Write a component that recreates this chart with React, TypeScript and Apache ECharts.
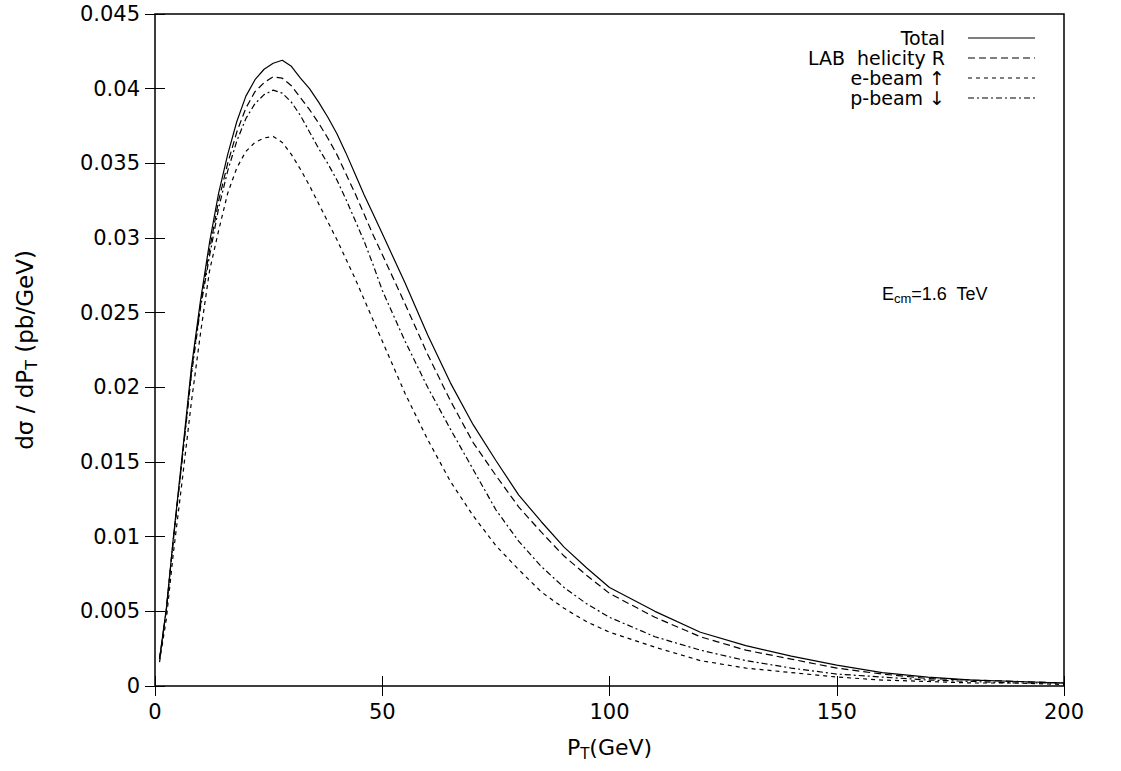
import React, { useEffect, useRef } from "react";
import * as echarts from "echarts";

const ptValues = [1, 2.5, 4, 6, 8, 10, 12, 14, 16, 18, 20, 22, 24, 26, 28, 30, 32, 34, 36, 38, 40, 42, 44, 46, 48, 50, 55, 60, 65, 70, 75, 80, 85, 90, 95, 100, 110, 120, 130, 140, 150, 160, 170, 180, 190, 200];

const totalValues = [0.0018, 0.0052, 0.0098, 0.0155, 0.0213, 0.0258, 0.0297, 0.0330, 0.0356, 0.0378, 0.0395, 0.0406, 0.0413, 0.0417, 0.0419, 0.0415, 0.0407, 0.0400, 0.0391, 0.0381, 0.0370, 0.0357, 0.0343, 0.0329, 0.0316, 0.0303, 0.0270, 0.0235, 0.0203, 0.0175, 0.0151, 0.0128, 0.0110, 0.0093, 0.0079, 0.0066, 0.0050, 0.0036, 0.0027, 0.0020, 0.0014, 0.0009, 0.0006, 0.0004, 0.0003, 0.0002];

const helicityValues = [0.0018, 0.0051, 0.0097, 0.0153, 0.0210, 0.0255, 0.0292, 0.0325, 0.0350, 0.0371, 0.0387, 0.0398, 0.0404, 0.0408, 0.0407, 0.0402, 0.0394, 0.0386, 0.0377, 0.0367, 0.0356, 0.0343, 0.0330, 0.0316, 0.0302, 0.0289, 0.0256, 0.0222, 0.0191, 0.0163, 0.0141, 0.0120, 0.0103, 0.0087, 0.0074, 0.0062, 0.0046, 0.0033, 0.0024, 0.0018, 0.0012, 0.0008, 0.0005, 0.0004, 0.0003, 0.0002];

const eBeamValues = [0.0016, 0.0045, 0.0088, 0.0138, 0.0190, 0.0236, 0.0278, 0.0305, 0.0330, 0.0347, 0.0358, 0.0364, 0.0367, 0.0368, 0.0364, 0.0356, 0.0346, 0.0335, 0.0323, 0.0311, 0.0299, 0.0286, 0.0273, 0.0259, 0.0245, 0.0231, 0.0196, 0.0165, 0.0137, 0.0114, 0.0094, 0.0078, 0.0063, 0.0052, 0.0043, 0.0036, 0.0026, 0.0017, 0.0012, 0.0009, 0.0006, 0.0004, 0.0003, 0.0002, 0.0002, 0.0001];

const pBeamValues = [0.0018, 0.0051, 0.0097, 0.0152, 0.0208, 0.0253, 0.0288, 0.0320, 0.0345, 0.0365, 0.0380, 0.0390, 0.0396, 0.0399, 0.0397, 0.0391, 0.0382, 0.0371, 0.0360, 0.0350, 0.0339, 0.0326, 0.0312, 0.0298, 0.0282, 0.0265, 0.0231, 0.0200, 0.0172, 0.0145, 0.0118, 0.0097, 0.0080, 0.0066, 0.0055, 0.0046, 0.0033, 0.0024, 0.0017, 0.0012, 0.0008, 0.0006, 0.0004, 0.0003, 0.0002, 0.0002];

const seriesNames = ["Total", "LAB  helicity R", "e-beam \u2191", "p-beam \u2193"];
const seriesDashes: (number[] | "solid")[] = ["solid", [7, 4], [4, 4], [6, 3, 2, 3]];
const seriesData = [totalValues, helicityValues, eBeamValues, pBeamValues];

const FONT = "'DejaVu Sans', sans-serif";
const FONT2 = "'Liberation Sans', Arial, sans-serif";

export default function App() {
  const ref = useRef<HTMLDivElement>(null);
  useEffect(() => {
    if (!ref.current) return;
    const chart = echarts.init(ref.current, undefined, { renderer: "svg" });
    const grid = { left: 155, top: 14, right: 57, bottom: 85 };
    const tickStyle = { show: true, inside: true, length: 10, lineStyle: { color: "#000", width: 1 } };

    const series = seriesData.map((vals, i) => ({
      name: seriesNames[i],
      type: "line",
      xAxisIndex: 0,
      yAxisIndex: 0,
      showSymbol: false,
      symbol: "none",
      smooth: false,
      lineStyle: { color: "#000", width: 1.2, type: seriesDashes[i] },
      data: ptValues.map((x, j) => [x, vals[j]]),
    }));

    const legendTop = 38;
    const legendStep = 20;
    const legendGraphics: any[] = [];
    seriesNames.forEach((name, i) => {
      const y = legendTop + i * legendStep;
      legendGraphics.push({
        type: "text",
        x: 945,
        y,
        style: {
          text: name,
          fill: "#000",
          fontSize: 19,
          fontFamily: FONT,
          lineHeight: 18,
          textAlign: "right",
          textVerticalAlign: "middle",
        },
      });
      legendGraphics.push({
        type: "line",
        shape: { x1: 968, y1: y, x2: 1035, y2: y },
        style: { stroke: "#000", lineWidth: 1.2, lineDash: seriesDashes[i] === "solid" ? null : seriesDashes[i] },
      });
    });

    chart.setOption({
      animation: false,
      backgroundColor: "#fff",
      grid: { ...grid, show: true, borderColor: "#000", borderWidth: 1.5, backgroundColor: "transparent" },
      xAxis: [
        {
          type: "value",
          min: 0,
          max: 200,
          interval: 50,
          position: "bottom",
          axisLine: { show: false },
          axisTick: tickStyle,
          splitLine: { show: false },
          axisLabel: { color: "#000", fontSize: 21, fontFamily: FONT, margin: 15 },
          name: "{n|P}{s|T}{n|(GeV)}",
          nameLocation: "middle",
          nameGap: 48,
          nameTextStyle: {
            rich: {
              n: { fontSize: 22, fontFamily: FONT, color: "#000" },
              s: { fontSize: 15, fontFamily: FONT, color: "#000", padding: [12, 0, 0, 0] },
            },
          },
        },
        {
          type: "value",
          min: 0,
          max: 200,
          interval: 50,
          position: "top",
          axisLine: { show: false },
          axisTick: tickStyle,
          splitLine: { show: false },
          axisLabel: { show: false },
        },
      ],
      yAxis: [
        {
          type: "value",
          min: 0,
          max: 0.045,
          interval: 0.005,
          position: "left",
          axisLine: { show: false },
          axisTick: tickStyle,
          splitLine: { show: false },
          axisLabel: { color: "#000", fontSize: 21, fontFamily: FONT, margin: 15 },
          name: "{n|d\u03C3 / dP}{s|T}{n| (pb/GeV)}",
          nameLocation: "middle",
          nameGap: 116,
          nameTextStyle: {
            rich: {
              n: { fontSize: 23, fontFamily: FONT, color: "#000" },
              s: { fontSize: 16, fontFamily: FONT, color: "#000", padding: [12, 0, 0, 0] },
            },
          },
        },
        {
          type: "value",
          min: 0,
          max: 0.045,
          interval: 0.005,
          position: "right",
          axisLine: { show: false },
          axisTick: tickStyle,
          splitLine: { show: false },
          axisLabel: { show: false },
        },
      ],
      series,
      graphic: [
        ...legendGraphics,
        {
          type: "text",
          x: 882,
          y: 294,
          style: {
            text: "{n|E}{s|cm}{n|=1.6  TeV}",
            textVerticalAlign: "middle",
            rich: {
              n: { fontSize: 18, fontFamily: FONT2, fill: "#000" },
              s: { fontSize: 13, fontFamily: FONT2, fill: "#000", padding: [9, 0, 0, 0] },
            },
          },
        },
      ],
    });
    return () => chart.dispose();
  }, []);
  return (
    <div
      ref={ref}
      style={{ position: "fixed", left: 0, top: 0, width: 1121, height: 771, background: "#fff" }}
    />
  );
}
